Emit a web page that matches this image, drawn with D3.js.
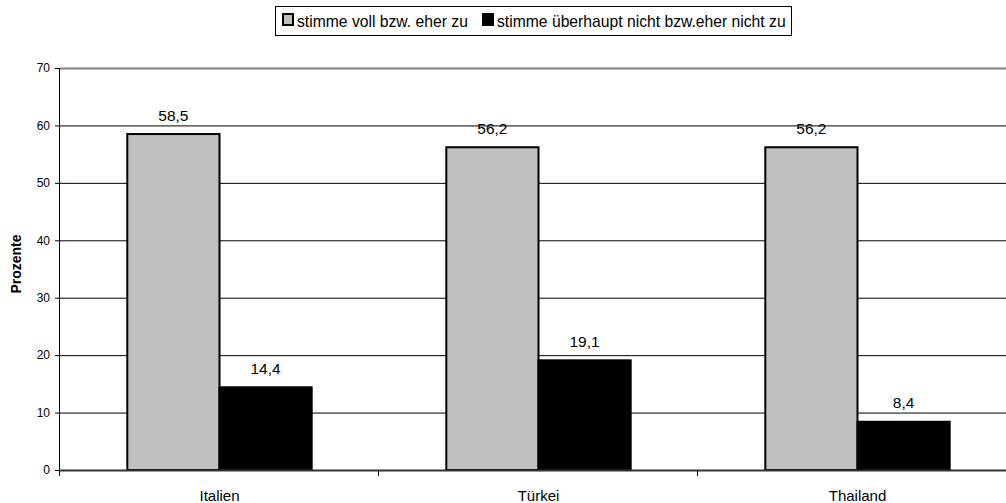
<!DOCTYPE html>
<html>
<head>
<meta charset="utf-8">
<script src="https://cdn.jsdelivr.net/npm/d3@7"></script>
<style>
  html, body { margin: 0; padding: 0; background: #fff; }
  svg { display: block; font-family: "Liberation Sans", Arial, sans-serif; }
</style>
</head>
<body>
<svg id="chart" width="1006" height="503"></svg>
<script>
const categories = ["Italien", "Türkei", "Thailand"];
const seriesNames = ["stimme voll bzw. eher zu", "stimme überhaupt nicht bzw.eher nicht zu"];
const agree = [58.5, 56.2, 56.2];
const disagree = [14.4, 19.1, 8.4];
const yTicks = [0, 10, 20, 30, 40, 50, 60, 70];
const colors = ["#c0c0c0", "#000000"];

const svg = d3.select("#chart");
const plotL = 60, plotR = 1017, plotT = 68, plotB = 470;

const x = d3.scaleBand().domain(categories).range([plotL, plotR]).paddingInner(0).paddingOuter(0);
const y = d3.scaleLinear().domain([0, 70]).range([plotB, plotT]);
const inner = d3.scaleBand().domain([0, 1]).range([0, x.bandwidth()]).paddingOuter(0.73).paddingInner(0);

// gridlines
svg.append("g").selectAll("line").data(yTicks.filter(d => d > 0)).join("line")
  .attr("x1", plotL).attr("x2", 1006)
  .attr("y1", d => y(d) + 0.5).attr("y2", d => y(d) + 0.5)
  .attr("stroke", d => d === 70 ? "#808080" : "#000")
  .attr("stroke-width", d => d === 70 ? 2 : 1);

// bars
const rows = categories.map((c, i) => [
  { cat: c, s: 0, v: agree[i] },
  { cat: c, s: 1, v: disagree[i] }
]).flat();

svg.append("g").selectAll("rect").data(rows).join("rect")
  .attr("x", d => x(d.cat) + inner(d.s))
  .attr("width", inner.bandwidth())
  .attr("y", d => y(d.v))
  .attr("height", d => y(0) - y(d.v))
  .attr("fill", d => colors[d.s])
  .attr("stroke", "#000").attr("stroke-width", 2);

// value labels
svg.append("g").selectAll("text").data(rows).join("text")
  .attr("x", d => x(d.cat) + inner(d.s) + inner.bandwidth() / 2)
  .attr("y", d => y(d.v) - 13.5)
  .attr("text-anchor", "middle")
  .attr("font-size", 15.5)
  .attr("fill", "#000")
  .text(d => d3.format(".1f")(d.v).replace(".", ","));

// y axis
const yAxis = svg.append("g").attr("transform", `translate(${plotL},0)`)
  .call(d3.axisLeft(y).tickValues(yTicks).tickSize(5).tickPadding(5).tickFormat(d => d));
yAxis.select(".domain").attr("stroke", "#000").attr("d", `M-0.5,${plotT}V${plotB}`);
yAxis.selectAll(".tick line").attr("stroke", "#000");
yAxis.selectAll("text").attr("font-size", 12).attr("font-family", "Liberation Sans, Arial, sans-serif").attr("fill", "#000");

// x axis
const xAxis = svg.append("g").attr("transform", `translate(0,${plotB})`);
xAxis.append("line").attr("x1", plotL - 1).attr("x2", 1006).attr("y1", 0.5).attr("y2", 0.5)
  .attr("stroke", "#333").attr("stroke-width", 2);
xAxis.selectAll("line.t").data(d3.range(categories.length + 1)).join("line").attr("class", "t")
  .attr("x1", i => plotL + i * x.bandwidth() - 0.5).attr("x2", i => plotL + i * x.bandwidth() - 0.5)
  .attr("y1", 0).attr("y2", 6).attr("stroke", "#000");
xAxis.selectAll("text").data(categories).join("text")
  .attr("x", d => x(d) + x.bandwidth() / 2)
  .attr("y", 31)
  .attr("text-anchor", "middle")
  .attr("font-size", 15)
  .text(d => d);

// y axis title
svg.append("text")
  .attr("transform", "translate(21,264) rotate(-90)")
  .attr("text-anchor", "middle")
  .attr("font-size", 14).attr("font-weight", "bold")
  .text("Prozente");

// legend
const lg = svg.append("g");
lg.append("rect").attr("x", 275.5).attr("y", 6.5).attr("width", 516).attr("height", 29)
  .attr("fill", "#fff").attr("stroke", "#000");
const lx = [282, 482];
seriesNames.forEach((n, i) => {
  lg.append("rect").attr("x", lx[i] + 1).attr("y", 14).attr("width", 10).attr("height", 11)
    .attr("fill", colors[i]).attr("stroke", "#000").attr("stroke-width", 2);
  lg.append("text").attr("x", lx[i] + 15).attr("y", 26.5)
    .attr("font-size", 15.7).text(n);
});
</script>
</body>
</html>
